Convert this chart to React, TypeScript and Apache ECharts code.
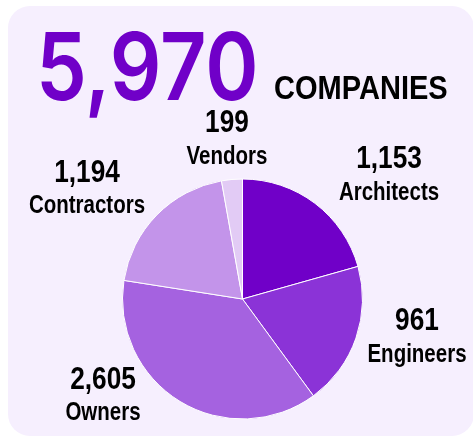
import React, { useEffect, useRef } from "react";
import * as echarts from "echarts";

// ---- data ----
const categories = ["Architects", "Engineers", "Owners", "Contractors", "Vendors"];
const companyCounts = [1153, 961, 2605, 1194, 199];
// share of the circle (%) each slice covers
const sliceShares = [20.6, 19.3, 37.5, 19.7, 2.8];
const totalCompanies = 5970;
const headlineUnit = "COMPANIES";

// ---- styling / layout ----
const sliceColors = ["#7000c8", "#8b33d7", "#a562e0", "#c394ea", "#e2cbf5"];
// [x, y of value line, y of name line]
const labelSpots: [number, number, number][] = [
  [389, 157, 191],
  [417, 319, 353],
  [103, 378, 411],
  [87, 171, 204],
  [227, 121, 155],
];
const SANS = '"Liberation Sans", Arial, sans-serif';
const NARROW_SCALE = 0.82;

const fmt = (n: number) => n.toLocaleString("en-US");

export default function App() {
  const ref = useRef<HTMLDivElement>(null);
  useEffect(() => {
    document.body.style.margin = "0";
    const chart = echarts.init(ref.current!, null, { renderer: "svg" });

    const labelTexts: any[] = [];
    categories.forEach((name, i) => {
      const [x, yv, yn] = labelSpots[i];
      labelTexts.push(
        {
          type: "text",
          x,
          y: yv,
          scaleX: NARROW_SCALE,
          style: {
            text: fmt(companyCounts[i]),
            fill: "#000",
            font: `bold 32px ${SANS}`,
            textAlign: "center",
            textVerticalAlign: "middle",
          },
        },
        {
          type: "text",
          x,
          y: yn,
          scaleX: NARROW_SCALE,
          style: {
            text: name,
            fill: "#000",
            font: `bold 25px ${SANS}`,
            textAlign: "center",
            textVerticalAlign: "middle",
          },
        }
      );
    });

    chart.setOption({
      animation: false,
      graphic: [
        {
          type: "rect",
          z: -10,
          shape: { x: 8, y: 6, width: 466, height: 430, r: 22 },
          style: { fill: "#f6effe" },
          silent: true,
        },
        {
          type: "text",
          x: 36,
          y: 66,
          scaleX: 0.86,
          style: {
            text: fmt(totalCompanies),
            fill: "#7000c8",
            font: '600 94px Inter, "Noto Sans", sans-serif',
            textAlign: "left",
            textVerticalAlign: "middle",
          },
        },
        {
          type: "text",
          x: 274,
          y: 88,
          scaleX: 0.88,
          style: {
            text: headlineUnit,
            fill: "#000",
            font: `bold 33px ${SANS}`,
            textAlign: "left",
            textVerticalAlign: "middle",
          },
        },
        ...labelTexts,
      ],
      series: [
        {
          type: "pie",
          center: [242.5, 299],
          radius: 120,
          startAngle: 90,
          clockwise: true,
          silent: true,
          itemStyle: { borderColor: "#ffffff", borderWidth: 1 },
          label: { show: false },
          labelLine: { show: false },
          data: categories.map((name, i) => ({
            name,
            value: sliceShares[i],
            itemStyle: { color: sliceColors[i] },
          })),
        },
      ],
    });
    return () => chart.dispose();
  }, []);
  return <div ref={ref} style={{ position: "fixed", left: 0, top: 0, width: 473, height: 436 }} />;
}
